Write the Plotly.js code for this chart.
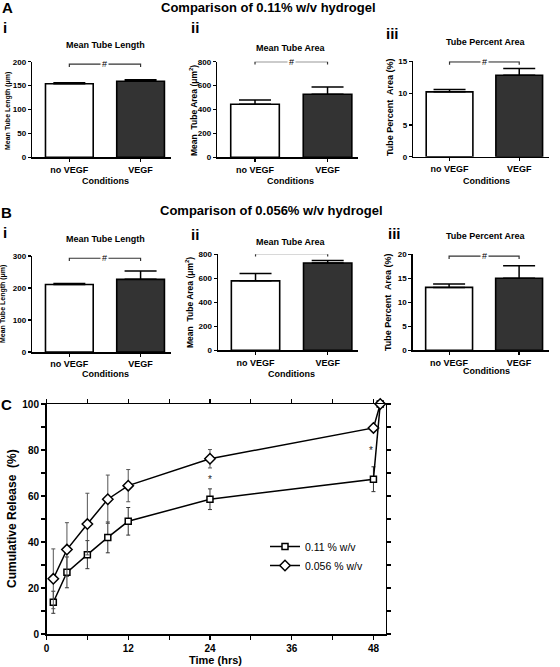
<!DOCTYPE html>
<html>
<head>
<meta charset="utf-8">
<script src="https://cdn.plot.ly/plotly-3.0.1.min.js"></script>
<style>html,body{margin:0;padding:0;background:#fff;}#chart{width:560px;height:667px;}</style>
</head>
<body>
<div id="chart"></div>
<script>
// ---------------- DATA ----------------
const conditions = ['no VEGF', 'VEGF'];

// A: 0.11% w/v hydrogel
const lengthA = [154, 159];
const lengthAErr = [2, 3.4];
const areaA = [444, 527];
const areaAErr = [35, 61];
const pctA = [10.2, 12.8];
const pctAErr = [0.35, 1.05];
const bracketA = [195, 800, 14.9];
const sigA = ['#', '#', '#'];

// B: 0.056% w/v hydrogel
const lengthB = [211, 227];
const lengthBErr = [3, 26];
const areaB = [579, 727];
const areaBErr = [61, 21];
const pctB = [13.1, 15.0];
const pctBErr = [0.7, 2.6];
const bracketB = [293, 805, 19.6];
const sigB = ['#', '*', '#'];

// C: cumulative release
const timeHrs = [1, 3, 6, 9, 12, 24, 48, 49];
const rel011 = [13.8, 26.8, 34.5, 42.0, 49.0, 58.6, 67.3, 100];
const rel011Err = [4.8, 6.7, 6.1, 6.7, 6.0, 4.5, 5.4, 0];
const rel0056 = [24.0, 36.7, 47.8, 58.6, 64.5, 76.2, 89.6, 100];
const rel0056Err = [13, 11.7, 13.4, 10.5, 7.0, 4.0, 1.0, 0];
const starX = [24, 47.6];
const starY = [67.3, 79.7];

const titlesTop = ['Comparison of 0.11% w/v hydrogel', 'Comparison of 0.056% w/v hydrogel'];
const subTitles = ['Mean Tube Length', 'Mean Tube Area', 'Tube Percent Area'];
const yTitles = ['Mean Tube Length (\u03bcm)', 'Mean  Tube Area (\u03bcm<sup>2</sup>)', 'Tube Percent  Area (%)'];
const romans = ['i', 'ii', 'iii'];

// ---------------- LAYOUT HELPERS ----------------
const W = 560, H = 667;
const FONT = 'Liberation Sans, Arial, Helvetica, sans-serif';
const fx = p => p / W;
const fy = p => 1 - p / H;

// panel boxes in pixels: [x0, x1, yTop, yBottom]
const boxes = [
  [32.3, 170.5, 61.7, 157.3],
  [217.3, 358, 61.7, 157.3],
  [413.3, 548.5, 61.3, 156.7],
  [32.3, 170.5, 256, 352],
  [218, 358, 254.3, 350.4],
  [412.7, 548.5, 254.3, 350.3]
];
const yRanges = [[0, 200], [0, 800], [0, 15], [0, 300], [0, 800], [0, 20]];
const yDticks = [50, 200, 5, 100, 200, 5];
const boxC = [46.5, 385.7, 404, 634];

const barSets = [
  [lengthA, lengthAErr], [areaA, areaAErr], [pctA, pctAErr],
  [lengthB, lengthBErr], [areaB, areaBErr], [pctB, pctBErr]
];
const brackets = bracketA.concat(bracketB);
const sigs = sigA.concat(sigB);

const traces = [];
const layout = {
  width: W, height: H,
  margin: {l: 0, r: 0, t: 0, b: 0},
  paper_bgcolor: '#fff', plot_bgcolor: 'rgba(0,0,0,0)',
  font: {family: FONT, color: '#000'},
  showlegend: true,
  annotations: []
};

function ann(text, xp, yp, size, bold, extra) {
  return Object.assign({
    text: text, xref: 'paper', yref: 'paper', x: fx(xp), y: fy(yp),
    xanchor: 'center', yanchor: 'middle', showarrow: false,
    font: {family: FONT, size: size, color: '#000', weight: bold ? 'bold' : 'normal'}
  }, extra || {});
}

barSets.forEach((set, i) => {
  const n = i + 1;
  const xa = 'x' + n, ya = 'y' + n;
  const b = boxes[i];
  traces.push({
    type: 'bar', x: conditions, y: set[0], xaxis: xa, yaxis: ya,
    width: 0.67, showlegend: false, hoverinfo: 'skip',
    marker: {color: ['#ffffff', '#333333'], line: {color: '#000', width: 1.6}},
    error_y: {type: 'data', array: set[1], arrayminus: [0, 0], symmetric: false,
              color: '#000', thickness: 1.5, width: 16}
  });
  const yr = yRanges[i];
  const d = (yr[1] - yr[0]) * 0.03;
  const by = brackets[i];
  traces.push({
    type: 'scatter', mode: 'lines', x: [conditions[0], conditions[0], conditions[1], conditions[1]],
    y: [by - d, by, by, by - d], xaxis: xa, yaxis: ya, cliponaxis: false,
    line: {color: '#333', width: 1.2}, showlegend: false, hoverinfo: 'skip'
  });
  layout.annotations.push({
    text: sigs[i], xref: xa, yref: ya, x: 0.5, y: by, showarrow: false,
    xanchor: 'center', yanchor: 'middle', bgcolor: '#fff', borderpad: 1,
    font: {family: FONT, size: 9, color: '#000'}
  });
  const axKey = n === 1 ? '' : n;
  layout['xaxis' + axKey] = {
    domain: [fx(b[0]), fx(b[1])], anchor: ya, type: 'category',
    range: [-0.52, 1.42], showline: true, linecolor: '#000', linewidth: 1.5,
    ticks: 'outside', ticklen: 3, tickwidth: 1.2, tickcolor: '#000',
    showgrid: false, zeroline: false, fixedrange: true,
    tickfont: {family: FONT, size: 9, weight: 'bold', color: '#000'}
  };
  layout['yaxis' + axKey] = {
    domain: [fy(b[3]), fy(b[2])], anchor: xa, range: yr, dtick: yDticks[i], tick0: 0,
    showline: true, linecolor: '#000', linewidth: 1.5,
    ticks: 'outside', ticklen: 3, tickwidth: 1.2, tickcolor: '#000',
    showgrid: false, zeroline: false, fixedrange: true,
    tickfont: {family: FONT, size: 8, weight: 'bold', color: '#000'}
  };
});

// ---------------- PANEL C ----------------
traces.push({
  type: 'scatter', mode: 'lines+markers', name: '0.11 % w/v',
  x: timeHrs, y: rel011, xaxis: 'x7', yaxis: 'y7', cliponaxis: false,
  line: {color: '#000', width: 1.5},
  marker: {symbol: 'square', size: 6, color: '#fff', line: {color: '#000', width: 1.5}},
  error_y: {type: 'data', array: rel011Err, color: '#333', thickness: 1, width: 2}
});
traces.push({
  type: 'scatter', mode: 'lines+markers', name: '0.056 % w/v',
  x: timeHrs, y: rel0056, xaxis: 'x7', yaxis: 'y7', cliponaxis: false,
  line: {color: '#000', width: 1.5},
  marker: {symbol: 'diamond', size: 8, color: '#fff', line: {color: '#000', width: 1.5}},
  error_y: {type: 'data', array: rel0056Err, color: '#555', thickness: 1, width: 2}
});
starX.forEach((sx, k) => {
  layout.annotations.push({
    text: '*', xref: 'x7', yref: 'y7', x: sx, y: starY[k], showarrow: false,
    xanchor: 'center', yanchor: 'middle', font: {family: FONT, size: 10, color: '#222'}
  });
});
layout.xaxis7 = {
  domain: [fx(boxC[0]), fx(boxC[1])], anchor: 'y7', range: [0, 49.8],
  tick0: 0, dtick: 12, ticks: 'outside', ticklen: 4, tickwidth: 1.2, tickcolor: '#000',
  minor: {dtick: 6, ticks: 'outside', ticklen: 4, tickwidth: 1.2, tickcolor: '#000'},
  showline: true, linecolor: '#000', linewidth: 1.5, mirror: 'ticks',
  showgrid: false, zeroline: false, fixedrange: true,
  tickfont: {family: FONT, size: 10, weight: 'bold', color: '#000'}
};
layout.yaxis7 = {
  domain: [fy(boxC[3]), fy(boxC[2])], anchor: 'x7', range: [0, 100],
  tick0: 0, dtick: 20, ticks: 'outside', ticklen: 4, tickwidth: 1.2, tickcolor: '#000',
  minor: {dtick: 10, ticks: 'outside', ticklen: 4, tickwidth: 1.2, tickcolor: '#000'},
  showline: true, linecolor: '#000', linewidth: 1.5, mirror: 'ticks',
  showgrid: false, zeroline: false, fixedrange: true,
  tickfont: {family: FONT, size: 10, weight: 'bold', color: '#000'}
};
layout.legend = {
  x: fx(265), y: fy(532), xanchor: 'left', yanchor: 'top',
  bgcolor: 'rgba(0,0,0,0)', borderwidth: 0, itemwidth: 30,
  font: {family: FONT, size: 10.5, color: '#000'}, tracegroupgap: 0
};

// ---------------- TEXT ----------------
const A = layout.annotations;
A.push(ann('A', 7, 8, 15, true));
A.push(ann('B', 6, 212, 15, true));
A.push(ann('C', 6, 404, 15, true));
A.push(ann(titlesTop[0], 268, 8, 13, true));
A.push(ann(titlesTop[1], 271, 210, 13, true));

const romanPos = [[5, 27], [195, 27], [392, 33], [5, 233], [195, 235], [394, 234]];
const subPos = [[105, 45], [291, 48], [486, 42], [105, 239], [291, 242], [486, 236]];
const yTitlePos = [[8, 111], [194, 111], [390, 107], [3, 304], [190, 303], [388, 302]];
const yTitleSize = [7, 8.5, 9, 7, 8.5, 9];
const condPos = [[105, 181], [290, 181], [486, 181], [105, 374], [291, 374], [486, 371]];
for (let i = 0; i < 6; i++) {
  A.push(ann(romans[i % 3], romanPos[i][0], romanPos[i][1], 15, true));
  A.push(ann(subTitles[i % 3], subPos[i][0], subPos[i][1], 9, true));
  A.push(ann(yTitles[i % 3], yTitlePos[i][0], yTitlePos[i][1], yTitleSize[i], true, {textangle: -90}));
  A.push(ann('Conditions', condPos[i][0], condPos[i][1], 9, true));
}
A.push(ann('Cumulative Release  (%)', 12, 519, 12, true, {textangle: -90}));
A.push(ann('Time (hrs)', 215, 660, 11, true));

Plotly.newPlot('chart', traces, layout, {staticPlot: true, displayModeBar: false});
</script>
</body>
</html>
